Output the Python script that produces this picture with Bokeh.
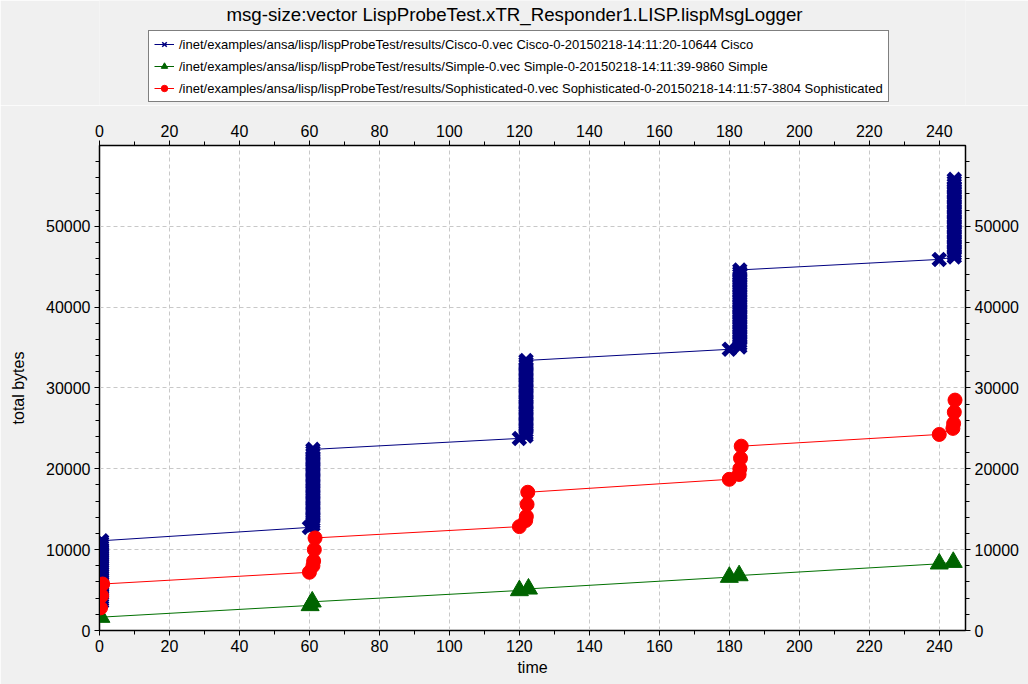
from bokeh.plotting import figure
from bokeh.layouts import column
from bokeh.models import (LinearAxis, SingleIntervalTicker, Range1d, Legend,
                          LegendItem, ColumnDataSource, Label)
from bokeh.embed import file_html
from bokeh.resources import INLINE

# ---------------- data ----------------
title_text = "msg-size:vector LispProbeTest.xTR_Responder1.LISP.lispMsgLogger"
legend_labels = [
    "/inet/examples/ansa/lisp/lispProbeTest/results/Cisco-0.vec Cisco-0-20150218-14:11:20-10644 Cisco",
    "/inet/examples/ansa/lisp/lispProbeTest/results/Simple-0.vec Simple-0-20150218-14:11:39-9860 Simple",
    "/inet/examples/ansa/lisp/lispProbeTest/results/Sophisticated-0.vec Sophisticated-0-20150218-14:11:57-3804 Sophisticated",
]

# Cisco: one message at the start of each probe period ...
cisco_probe_time = [60.0, 120.0, 180.0, 240.0]
cisco_probe_bytes = [12750, 23760, 34780, 45900]
# ... followed by a burst of messages shortly afterwards
cisco_burst_time = [0.6, 61.0, 121.9, 183.0, 244.3]
cisco_burst_bytes = [
    [3500, 3745, 3990, 4235, 4480, 4725, 4970, 5215, 5460, 5705, 5950, 6195,
     6440, 6685, 6930, 7175, 7420, 7665, 7910, 8155, 8400, 8645, 8890, 9135,
     9380, 9625, 9870, 10115, 10360, 10605, 10850, 11100],
    [13050, 13350, 13650, 13960, 14260, 14560, 14860, 15160, 15460, 15760, 16070, 16370,
     16670, 16970, 17270, 17570, 17880, 18180, 18480, 18780, 19080, 19380, 19690, 19990,
     20290, 20590, 20890, 21190, 21500, 21800, 22100, 22400],
    [24050, 24350, 24650, 24960, 25260, 25560, 25860, 26160, 26460, 26760, 27070, 27370,
     27670, 27970, 28270, 28570, 28880, 29180, 29480, 29780, 30080, 30380, 30690, 30990,
     31290, 31590, 31890, 32190, 32500, 32800, 33100, 33400],
    [35080, 35390, 35690, 36000, 36310, 36620, 36920, 37230, 37540, 37840, 38150, 38460,
     38770, 39070, 39380, 39690, 39990, 40300, 40610, 40910, 41220, 41530, 41840, 42140,
     42450, 42760, 43060, 43370, 43680, 43990, 44290, 44600],
    [46200, 46510, 46820, 47130, 47440, 47750, 48060, 48370, 48680, 48990, 49300, 49610,
     49920, 50230, 50540, 50850, 51150, 51460, 51770, 52080, 52390, 52700, 53010, 53320,
     53630, 53940, 54250, 54560, 54870, 55180, 55490, 55800],
]

simple_time = [0.4, 60.2, 60.8, 120.0, 122.6, 180.0, 182.8, 240.0, 244.0]
simple_bytes = [1650, 3100, 3550, 4950, 5150, 6600, 6800, 8250, 8450]

soph_time = [0.3, 0.6, 0.9, 60.0, 61.0, 61.2, 61.4, 61.6, 120.0, 121.8, 122.0, 122.2,
             122.4, 180.0, 182.8, 183.0, 183.2, 183.4, 240.0, 243.9, 244.1, 244.3, 244.5]
soph_bytes = [2800, 4300, 5750, 7200, 8000, 8600, 10000, 11450, 12850, 13600, 14100, 15600,
              17100, 18700, 19300, 20000, 21300, 22800, 24250, 25000, 25600, 27000, 28500]

FONT = "Liberation Sans"
BG = "#f0f0f0"
NAVY, GREEN, RED = "#000080", "#006400", "#ff0000"

# Cisco vector in recording order: burst, probe, burst, probe, ...
c_t, c_v = [], []
for i, (bt, bv) in enumerate(zip(cisco_burst_time, cisco_burst_bytes)):
    if i > 0:
        c_t.append(cisco_probe_time[i - 1])
        c_v.append(cisco_probe_bytes[i - 1])
    c_t.extend([bt] * len(bv))
    c_v.extend(bv)

cisco = ColumnDataSource(dict(t=c_t, v=c_v))
simple = ColumnDataSource(dict(t=simple_time, v=simple_bytes))
soph = ColumnDataSource(dict(t=soph_time, v=soph_bytes))

# ---------------- header: title and legend ----------------
# (its frame is aligned with the chart frame below, so positions are frame-relative)
head = figure(width=1028, height=105, output_backend="svg", toolbar_location=None,
              x_range=Range1d(0, 1), y_range=Range1d(0, 1),
              min_border=0, x_axis_location=None, y_axis_location=None)
head.border_fill_color = BG
head.background_fill_color = BG
head.outline_line_color = None
head.xgrid.visible = False
head.ygrid.visible = False

head.add_layout(Label(x=415, y=91, x_units="screen", y_units="screen", text=title_text,
                      text_font=FONT, text_font_size="18.7px", text_color="black",
                      text_align="center", text_baseline="middle"))


# legend swatches: hidden copies of the series, used only for their styling
def swatch(src, color, marker, **kw):
    ln = head.line("t", "v", source=src, line_color=color, line_width=1, visible=False)
    mk = head.scatter("t", "v", source=src, marker=marker, line_color=color,
                      visible=False, **kw)
    return [ln, mk]


legend = Legend(items=[
    LegendItem(label=legend_labels[0],
               renderers=swatch(cisco, NAVY, "x", size=10, line_width=1.5)),
    LegendItem(label=legend_labels[1],
               renderers=swatch(simple, GREEN, "triangle", size=10, fill_color=GREEN)),
    LegendItem(label=legend_labels[2],
               renderers=swatch(soph, RED, "circle", size=10, fill_color=RED)),
], location=(49, 3))
legend.label_text_font = FONT
legend.label_text_font_size = "13px"
legend.label_text_color = "black"
legend.glyph_width = 20
legend.glyph_height = 16
legend.label_height = 16
legend.label_standoff = 5
legend.spacing = 6
legend.padding = 5
legend.margin = 0
legend.click_policy = "none"
legend.inactive_fill_alpha = 0
legend.border_line_color = "black"
legend.border_line_width = 1
legend.background_fill_color = "white"
legend.background_fill_alpha = 1
head.add_layout(legend, "center")

# ---------------- main chart ----------------
p = figure(width=1028, height=579, output_backend="svg", toolbar_location=None,
           x_range=Range1d(0, 247.5), y_range=Range1d(0, 59990),
           min_border_left=99, min_border_right=63, min_border_top=40,
           min_border_bottom=54, x_axis_location=None, y_axis_location=None)
p.border_fill_color = BG
p.background_fill_color = "white"
p.outline_line_color = "black"
p.outline_line_width = 1.5

x_ticker = SingleIntervalTicker(interval=20, num_minor_ticks=2)
y_ticker = SingleIntervalTicker(interval=10000, num_minor_ticks=5)


def style_axis(ax):
    ax.axis_line_color = "black"
    ax.axis_line_width = 1
    ax.major_tick_line_color = "black"
    ax.minor_tick_line_color = "black"
    ax.major_tick_in = 0
    ax.minor_tick_in = 0
    ax.major_tick_out = 5
    ax.minor_tick_out = 4
    ax.major_label_text_font = FONT
    ax.major_label_text_font_size = "16px"
    ax.major_label_text_color = "black"
    ax.major_label_standoff = 4
    ax.axis_label_text_font = FONT
    ax.axis_label_text_font_size = "16px"
    ax.axis_label_text_font_style = "normal"
    ax.axis_label_text_color = "black"


bottom = LinearAxis(ticker=x_ticker, axis_label="time", axis_label_standoff=4)
top = LinearAxis(ticker=x_ticker)
left = LinearAxis(ticker=y_ticker, axis_label="total bytes", axis_label_standoff=16)
right = LinearAxis(ticker=y_ticker)
for ax in (bottom, top, left, right):
    style_axis(ax)
p.add_layout(bottom, "below")
p.add_layout(top, "above")
p.add_layout(left, "left")
p.add_layout(right, "right")

p.xgrid.ticker = x_ticker
p.ygrid.ticker = y_ticker
for g in (p.xgrid, p.ygrid):
    g.grid_line_color = "#c8c8c8"
    g.grid_line_dash = "4 3"
    g.grid_line_width = 1

p.line("t", "v", source=cisco, line_color=NAVY, line_width=1)
p.scatter("t", "v", source=cisco, marker="x", size=17, line_color=NAVY, line_width=5)
p.line("t", "v", source=simple, line_color="#007000", line_width=1)
p.scatter("t", "v", source=simple, marker="triangle", size=18,
          fill_color=GREEN, line_color=GREEN)
p.line("t", "v", source=soph, line_color=RED, line_width=1)
p.scatter("t", "v", source=soph, marker="circle", size=14, fill_color=RED, line_color=RED)

open("out.html", "w").write(file_html(column(head, p, spacing=0), INLINE))
